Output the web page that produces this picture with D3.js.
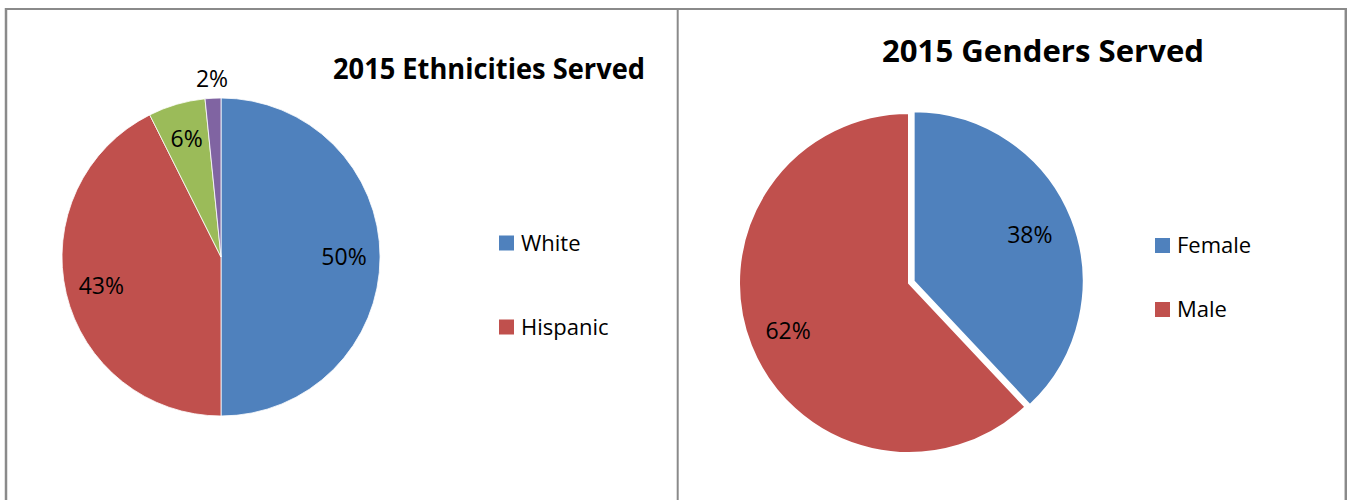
<!DOCTYPE html>
<html>
<head>
<meta charset="utf-8">
<script src="https://cdn.jsdelivr.net/npm/d3@7"></script>
<style>
  html, body { margin: 0; padding: 0; background: #fff; }
  svg { display: block; }
</style>
</head>
<body>
<svg id="chart" width="1347" height="500"></svg>
<script>
// ---- Data ----
const ethnicityCategories = ["White", "Hispanic", "Other", "Black"];
const ethnicityValues = [50.0, 42.6, 5.8, 1.6];
const ethnicityLegend = ["White", "Hispanic"];
const ethnicityTitle = "2015 Ethnicities Served";

const genderCategories = ["Female", "Male"];
const genderValues = [38, 62];
const genderTitle = "2015 Genders Served";

// ---- Styles ----
const palette = ["#4F81BD", "#C0504D", "#9BBB59", "#8064A2"];
const labelFont = "'Open Sans', 'Noto Sans', sans-serif";

const svg = d3.select("#chart");

// panel borders
const borderColor = "#8a8a8a";
svg.append("line").attr("x1", 6).attr("x2", 1346).attr("y1", 9).attr("y2", 9)
  .attr("stroke", borderColor).attr("stroke-width", 2);
svg.append("line").attr("x1", 6).attr("x2", 6).attr("y1", 8).attr("y2", 500)
  .attr("stroke", borderColor).attr("stroke-width", 2.5);
svg.append("line").attr("x1", 677.7).attr("x2", 677.7).attr("y1", 8).attr("y2", 500)
  .attr("stroke", borderColor).attr("stroke-width", 2);
svg.append("line").attr("x1", 1345.8).attr("x2", 1345.8).attr("y1", 8).attr("y2", 500)
  .attr("stroke", borderColor).attr("stroke-width", 2.5);

const fmt = v => Math.round(v) + "%";

function drawPie(opts) {
  const { cats, vals, cx, cy, r, labelR, outsideR, explode, strokeW } = opts;
  const color = d3.scaleOrdinal().domain(cats).range(palette);
  const pie = d3.pie().sort(null).value(d => d.v);
  const data = pie(cats.map((c, i) => ({ c, v: vals[i] })));
  const arc = d3.arc().innerRadius(0).outerRadius(r);
  const labelArc = d3.arc().innerRadius(labelR).outerRadius(labelR);
  const outArc = d3.arc().innerRadius(outsideR).outerRadius(outsideR);
  const g = svg.append("g").attr("transform", `translate(${cx},${cy})`);

  g.selectAll("path").data(data).enter().append("path")
    .attr("d", arc)
    .attr("fill", d => color(d.data.c))
    .attr("stroke", "#fff")
    .attr("stroke-width", strokeW)
    .attr("transform", (d, i) => {
      const e = explode[i] || 0;
      const a = (d.startAngle + d.endAngle) / 2;
      return `translate(${Math.sin(a) * e},${-Math.cos(a) * e})`;
    });

  g.selectAll("text.lbl").data(data).enter().append("text")
    .attr("class", "lbl")
    .attr("transform", d => {
      const small = (d.endAngle - d.startAngle) < 0.2;
      const p = small ? outArc.centroid(d) : labelArc.centroid(d);
      return `translate(${p[0]},${p[1]})`;
    })
    .attr("text-anchor", "middle")
    .attr("dy", "0.36em")
    .attr("font-family", labelFont)
    .attr("font-size", 23)
    .attr("fill", "#000")
    .text(d => fmt(d.data.v));
  return color;
}

function drawLegend(items, color, x, ys) {
  items.forEach((name, i) => {
    svg.append("rect").attr("x", x).attr("y", ys[i] - 7.5)
      .attr("width", 15).attr("height", 15).attr("fill", color(name));
    svg.append("text").attr("x", x + 22).attr("y", ys[i]).attr("dy", "0.36em")
      .attr("font-family", labelFont).attr("font-size", 22).attr("fill", "#000")
      .text(name);
  });
}

function drawTitle(text, x, y, width, size) {
  svg.append("text").attr("x", x).attr("y", y)
    .attr("font-family", labelFont).attr("font-weight", "bold")
    .attr("font-size", size).attr("fill", "#000")
    .attr("textLength", width).attr("lengthAdjust", "spacingAndGlyphs")
    .text(text);
}

// Left panel
drawTitle(ethnicityTitle, 333, 79, 312, 29);
const c1 = drawPie({ cats: ethnicityCategories, vals: ethnicityValues, cx: 221, cy: 257, r: 159,
  labelR: 123, outsideR: 179, explode: [0, 0, 0, 0], strokeW: 0.8 });
drawLegend(ethnicityLegend, c1, 499, [243, 327]);

// Right panel
drawTitle(genderTitle, 882, 62, 322, 31);
const c2 = drawPie({ cats: genderCategories, vals: genderValues, cx: 909, cy: 283, r: 170,
  labelR: 130, outsideR: 190, explode: [5, 0], strokeW: 2 });
drawLegend(genderCategories, c2, 1155, [245.5, 309.5]);
</script>
</body>
</html>
